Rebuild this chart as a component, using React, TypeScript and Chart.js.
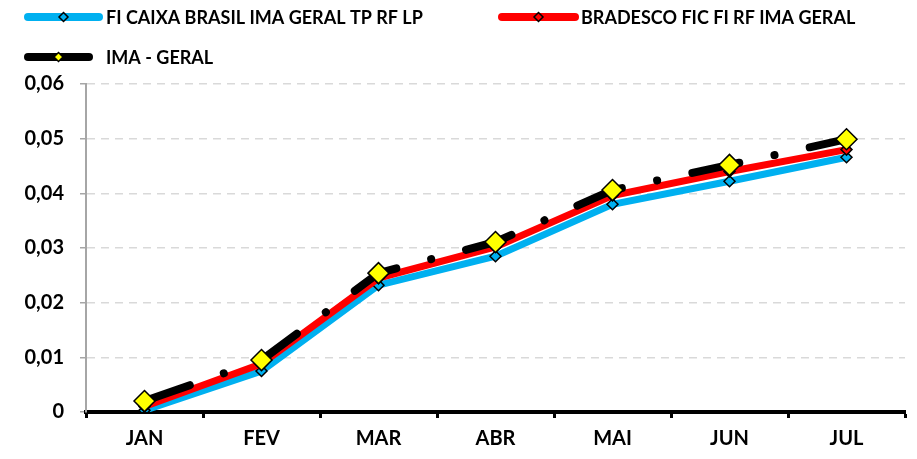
import React, { useEffect, useRef } from "react";
import { Chart, registerables } from "chart.js";

Chart.register(...registerables);

const months = ["JAN", "FEV", "MAR", "ABR", "MAI", "JUN", "JUL"];
const caixaName = "FI CAIXA BRASIL IMA GERAL TP RF LP";
const bradescoName = "BRADESCO FIC FI RF IMA GERAL";
const imaName = "IMA - GERAL";
const caixa = [0.0003, 0.0075, 0.0232, 0.0285, 0.038, 0.0422, 0.0466];
const bradesco = [0.001, 0.0088, 0.0245, 0.0302, 0.0396, 0.044, 0.048];
const ima = [0.002, 0.0095, 0.0254, 0.0311, 0.0406, 0.0452, 0.0499];
const yTicks = [0, 0.01, 0.02, 0.03, 0.04, 0.05, 0.06];

const FONT = "Lato, 'Open Sans', sans-serif";

const legendPlugin = {
  id: "customLegend",
  afterDraw(chart: any) {
    const ctx = chart.ctx;
    const items = [
      { x: 28, y: 17, len: 71, color: "#00B0F0", fill: "#00B0F0", r: 4.5, text: caixaName, tx: 106 },
      { x: 502, y: 17, len: 73, color: "#FF0000", fill: "#FF0000", r: 4.5, text: bradescoName, tx: 581 },
      { x: 28, y: 57, len: 61, color: "#000000", fill: "#FFFF00", r: 4.5, text: imaName, tx: 106 },
    ];
    ctx.save();
    for (const it of items) {
      ctx.beginPath();
      ctx.lineWidth = 8;
      ctx.lineCap = "round";
      ctx.strokeStyle = it.color;
      ctx.moveTo(it.x, it.y);
      ctx.lineTo(it.x + it.len, it.y);
      ctx.stroke();
      const cx = it.x + it.len / 2;
      ctx.beginPath();
      ctx.moveTo(cx, it.y - it.r);
      ctx.lineTo(cx + it.r, it.y);
      ctx.lineTo(cx, it.y + it.r);
      ctx.lineTo(cx - it.r, it.y);
      ctx.closePath();
      ctx.fillStyle = it.fill;
      ctx.fill();
      ctx.lineWidth = 1.5;
      ctx.lineCap = "butt";
      ctx.strokeStyle = "#000";
      ctx.stroke();
      ctx.fillStyle = "#000";
      ctx.font = `bold 18px ${FONT}`;
      ctx.textBaseline = "middle";
      ctx.textAlign = "left";
      ctx.fillText(it.text, it.tx, it.y + 1);
    }
    ctx.restore();
  },
};

export default function App() {
  const ref = useRef<HTMLCanvasElement>(null);
  useEffect(() => {
    if (!ref.current) return;
    const chart = new Chart(ref.current, {
      type: "line",
      data: {
        labels: months,
        datasets: [
          {
            label: imaName,
            data: ima,
            borderColor: "#000000",
            borderWidth: 8,
            borderCapStyle: "round",
            borderDash: [48, 36, 0.1, 36],
            pointStyle: "rectRot",
            pointRadius: 10.5,
            pointBackgroundColor: "#FFFF00",
            pointBorderColor: "#000000",
            pointBorderWidth: 1.5,
            tension: 0,
          },
          {
            label: bradescoName,
            data: bradesco,
            borderColor: "#FF0000",
            borderWidth: 7,
            pointStyle: "rectRot",
            pointRadius: 5.5,
            pointBackgroundColor: "#FF0000",
            pointBorderColor: "#000000",
            pointBorderWidth: 1.5,
            tension: 0,
          },
          {
            label: caixaName,
            data: caixa,
            borderColor: "#00B0F0",
            borderWidth: 7,
            pointStyle: "rectRot",
            pointRadius: 5.5,
            pointBackgroundColor: "#00B0F0",
            pointBorderColor: "#000000",
            pointBorderWidth: 1.5,
            tension: 0,
          },
        ],
      },
      options: {
        responsive: false,
        animation: false,
        layout: { padding: { top: 84, right: 11, left: 0, bottom: 0 } },
        plugins: { legend: { display: false }, tooltip: { enabled: false } },
        scales: {
          x: {
            offset: true,
            grid: {
              offset: true,
              drawOnChartArea: false,
              drawTicks: true,
              tickLength: 6,
              tickWidth: 3,
              tickColor: "#000",
            },
            border: { color: "#000", width: 4 },
            ticks: {
              color: "#000",
              font: { family: FONT, size: 20, weight: "bold" },
              padding: 9,
            },
            afterFit(scale: any) {
              scale.height = 47;
            },
          },
          y: {
            min: 0,
            max: 0.06,
            afterBuildTicks(scale: any) {
              scale.ticks = yTicks.map((v) => ({ value: v }));
            },
            grid: {
              color: "#D9D9D9",
              lineWidth: 1.5,
              tickColor: "#A6A6A6",
              tickLength: 6,
            },
            border: { color: "#A6A6A6", width: 2, dash: [8, 6] },
            ticks: {
              color: "#000",
              font: { family: FONT, size: 20, weight: "bold" },
              padding: 16,
              callback: (v: any) => (v === 0 ? "0" : Number(v).toFixed(2).replace(".", ",")),
            },
            afterFit(scale: any) {
              scale.width = 86;
            },
          },
        },
      },
      plugins: [legendPlugin],
    } as any);
    return () => chart.destroy();
  }, []);
  return (
    <canvas
      ref={ref}
      width={917}
      height={459}
      style={{ position: "absolute", left: 0, top: 0, display: "block" }}
    />
  );
}
